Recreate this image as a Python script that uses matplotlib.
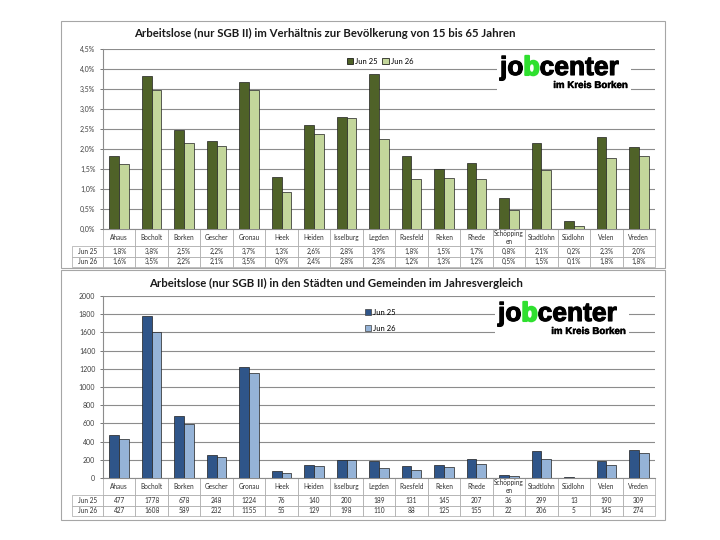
import numpy as np
import matplotlib
matplotlib.use('Agg')
import matplotlib.pyplot as plt
import matplotlib.patheffects as pe
from matplotlib.patches import Rectangle
from matplotlib.ticker import FuncFormatter

plt.rcParams['font.family'] = ['Lato', 'DejaVu Sans']

orte = ['Ahaus', 'Bocholt', 'Borken', 'Gescher', 'Gronau', 'Heek', 'Heiden',
        'Isselburg', 'Legden', 'Raesfeld', 'Reken', 'Rhede', 'Schöpping\nen',
        'Stadtlohn', 'Südlohn', 'Velen', 'Vreden']
serien = ['Jun 25', 'Jun 26']

# Anteil an der Bevoelkerung 15-65 Jahre, in %
quote_jun25 = [1.82, 3.83, 2.48, 2.20, 3.68, 1.30, 2.59, 2.79, 3.87, 1.83,
               1.49, 1.66, 0.77, 2.14, 0.20, 2.31, 2.04]
quote_jun26 = [1.62, 3.47, 2.16, 2.07, 3.48, 0.93, 2.38, 2.77, 2.26, 1.24,
               1.28, 1.24, 0.48, 1.48, 0.07, 1.77, 1.82]

# Arbeitslose absolut
anzahl_jun25 = [477, 1778, 678, 248, 1224, 76, 140, 200, 189, 131, 145, 207,
                36, 299, 13, 190, 309]
anzahl_jun26 = [427, 1608, 589, 232, 1155, 55, 129, 198, 110, 88, 125, 155,
                22, 206, 5, 145, 274]

W, H = 720, 540
fig = plt.figure(figsize=(7.2, 5.4), dpi=100)
fig.patch.set_facecolor('white')


def fx(px):
    return px / W


def fy(py):
    return 1 - py / H


# panel frames
for top, bot in [(21, 268), (270, 520)]:
    fig.patches.append(Rectangle((fx(61), fy(bot)), fx(665) - fx(61), fy(top) - fy(bot),
                                 transform=fig.transFigure, fill=False,
                                 edgecolor='#A6A6A6', lw=0.8))


def logo(ax, x, y):
    # x, y: linke Kante / Unterkante des Schriftzugs in Pixeln
    ax.add_artist(Rectangle((fx(x - 3), fy(y + 12)), fx(134), fy(y - 24) - fy(y + 12),
                            transform=fig.transFigure, facecolor='white',
                            edgecolor='none', zorder=4, clip_on=False))
    kw = dict(fontsize=19, fontweight='bold', family='Liberation Sans', zorder=5)
    t1 = ax.text(fx(x), fy(y), 'jo', transform=fig.transFigure, va='bottom',
                 color='black',
                 path_effects=[pe.withStroke(linewidth=0.8, foreground='black')], **kw)
    t2 = ax.annotate('b', xy=(1, 0), xycoords=t1, va='bottom', color='#2FE02F',
                     path_effects=[pe.withStroke(linewidth=1.5, foreground='#2FE02F')],
                     **kw)
    ax.annotate('center', xy=(1, 0), xycoords=t2, va='bottom', color='black',
                path_effects=[pe.withStroke(linewidth=0.8, foreground='black')], **kw)
    ax.text(fx(x + 128), fy(y + 10), 'im Kreis Borken', transform=fig.transFigure,
            ha='right', va='bottom', fontsize=7, fontweight='bold',
            family='Liberation Sans', color='black', zorder=5,
            path_effects=[pe.withStroke(linewidth=0.3, foreground='black')])


def panel(rect, v25, v26, farben, yticks, fmt, tabelle, titel, titel_y):
    ax = fig.add_axes(rect)
    x = np.arange(len(orte))
    w = 0.3
    ax.bar(x - w / 2, v25, w, color=farben[0], edgecolor='#1F1F1F', lw=0.5, zorder=3)
    ax.bar(x + w / 2, v26, w, color=farben[1], edgecolor='#1F1F1F', lw=0.5, zorder=3)
    ax.set_xlim(-0.5, len(orte) - 0.5)
    ax.set_ylim(yticks[0], yticks[-1])
    ax.set_yticks(yticks)
    ax.yaxis.set_major_formatter(FuncFormatter(fmt))
    ax.tick_params(axis='y', labelsize=5, colors='#404040', length=2, width=0.5)
    ax.set_xticks([])
    ax.grid(axis='y', color='#8C8C8C', lw=0.8, zorder=0)
    for s in ['top', 'right']:
        ax.spines[s].set_visible(False)
    for s in ['left', 'bottom']:
        ax.spines[s].set_color('#8C8C8C')
        ax.spines[s].set_linewidth(0.8)

    # Datentabelle unter der Achse
    pos = ax.get_position()
    ax_w = pos.width * W
    ax_h = pos.height * H
    lab_w = 31 / ax_w
    zeilen = [[''] + orte,
              [serien[0]] + tabelle[0],
              [serien[1]] + tabelle[1]]
    tab_h = 38 / ax_h
    tab = ax.table(cellText=zeilen, colWidths=[lab_w] + [1 / len(orte)] * len(orte),
                   cellLoc='center', bbox=[-lab_w, -tab_h, 1 + lab_w, tab_h])
    tab.auto_set_font_size(False)
    for (r, c), cell in tab.get_celld().items():
        cell.set_edgecolor('#A6A6A6')
        cell.set_linewidth(0.5)
        cell.get_text().set_fontsize(4.7)
        cell.get_text().set_color('#303030')
        cell.set_height(1.7 if r == 0 else 1.0)
        if r == 0 and c == 0:
            cell.visible_edges = ''
    ax.text(fx(titel[1]), fy(titel_y), titel[0], transform=fig.transFigure,
            fontsize=8.2, fontweight='bold', color='#1A1A1A', va='center')
    return ax


def pct(v, pos):
    return ('%.1f%%' % v).replace('.', ',')


ax1 = panel([fx(103), fy(229), fx(655) - fx(103), fy(49) - fy(229)],
            quote_jun25, quote_jun26, ['#4F6228', '#C3D69B'],
            np.arange(0, 4.51, 0.5), pct,
            [[pct(v, 0) for v in quote_jun25], [pct(v, 0) for v in quote_jun26]],
            ('Arbeitslose (nur SGB II) im Verhältnis zur Bevölkerung von 15 bis 65 Jahren', 134),
            33)
h1 = [Rectangle((0, 0), 1, 1, facecolor=c, edgecolor='black', lw=0.5)
      for c in ['#4F6228', '#C3D69B']]
ax1.legend(h1, serien, loc='center left', bbox_to_anchor=(fx(343), fy(61)),
           bbox_transform=fig.transFigure, ncol=2, frameon=False, fontsize=5.5,
           handlelength=0.8, handleheight=0.8, handletextpad=0.3, columnspacing=0.6,
           borderpad=0)
logo(ax1, 500, 80)

ax2 = panel([fx(103), fy(478), fx(655) - fx(103), fy(296) - fy(478)],
            anzahl_jun25, anzahl_jun26, ['#2F5589', '#95B3D7'],
            np.arange(0, 2001, 200), lambda v, p: '%d' % v,
            [[str(v) for v in anzahl_jun25], [str(v) for v in anzahl_jun26]],
            ('Arbeitslose (nur SGB II) in den Städten und Gemeinden im Jahresvergleich', 149),
            283)
h2 = [Rectangle((0, 0), 1, 1, facecolor=c, edgecolor='#404040', lw=0.5)
      for c in ['#2F5589', '#95B3D7']]
ax2.legend(h2, serien, loc='upper left', bbox_to_anchor=(fx(361), fy(305)),
           bbox_transform=fig.transFigure, frameon=False, fontsize=5.5,
           handlelength=0.8, handleheight=0.8, handletextpad=0.3, labelspacing=1.2,
           borderpad=0)
logo(ax2, 498, 326)

fig.savefig('out.png', dpi=100, facecolor='white')
